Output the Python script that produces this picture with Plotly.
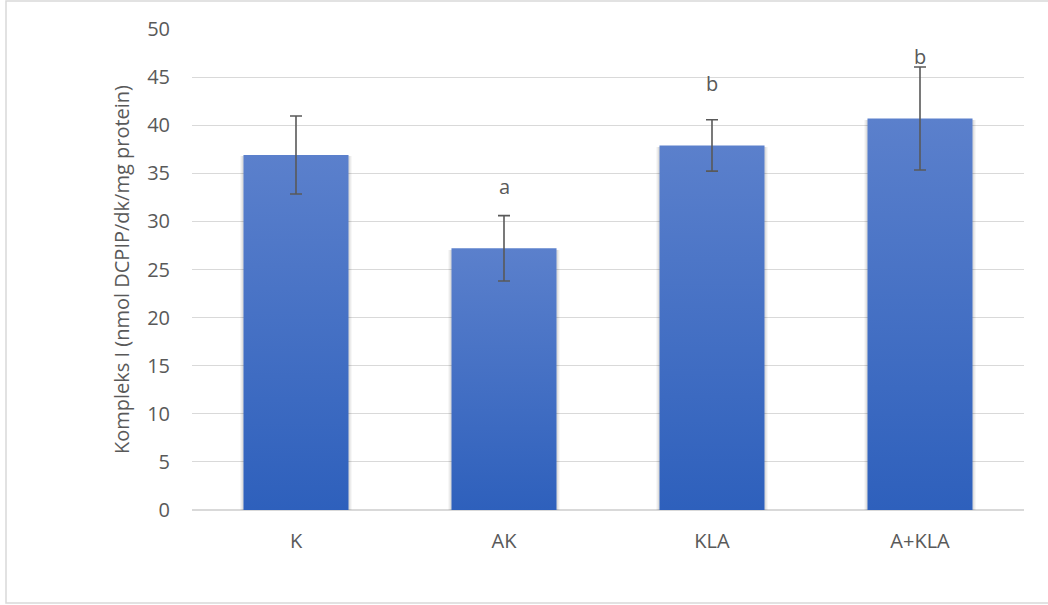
import plotly.graph_objects as go

# Complex I activity per group
groups = ["K", "AK", "KLA", "A+KLA"]
activity = [36.9, 27.2, 37.9, 40.7]
activity_err = [4.05, 3.4, 2.67, 5.35]
sig_letters = ["", "a", "b", "b"]

y_ticks = [0, 5, 10, 15, 20, 25, 30, 35, 40, 45, 50]

W, H = 1048, 605
ML, MR, MT, MB = 192, 24, 29, 95
BAR_W = 0.505
TEXT = "#595959"
FONT = "Open Sans"
FS = 20

fig = go.Figure()

xpos = list(range(len(groups)))

# soft shadow behind each bar
for spread, alpha in [(0.034, 0.03), (0.022, 0.045), (0.012, 0.06)]:
    fig.add_trace(go.Bar(
        x=xpos, y=[v - 0.15 for v in activity], width=BAR_W + spread,
        marker=dict(color=f"rgba(0,0,0,{alpha})", line=dict(width=0)),
        hoverinfo="skip", showlegend=False,
    ))

# gradient-filled bars
for i, v in enumerate(activity):
    x0, x1 = i - BAR_W / 2, i + BAR_W / 2
    fig.add_trace(go.Scatter(
        x=[x0, x0, x1, x1, x0], y=[0, v, v, 0, 0],
        mode="lines", line=dict(width=0), fill="toself",
        fillgradient=dict(type="vertical",
                          colorscale=[[0, "#2e60bc"], [1, "#5b80cc"]]),
        hoverinfo="skip", showlegend=False,
    ))

# error bars
fig.add_trace(go.Scatter(
    x=xpos, y=activity, mode="markers",
    marker=dict(size=1, opacity=0),
    error_y=dict(type="data", array=activity_err, visible=True,
                 color="#595959", thickness=1.6, width=6),
    showlegend=False, hoverinfo="skip",
))

# significance letters above bars
for i, (v, t) in enumerate(zip(activity, sig_letters)):
    if t:
        fig.add_annotation(x=i, y=v, text=t, showarrow=False,
                           yanchor="bottom", yshift=46,
                           font=dict(family=FONT, size=FS, color=TEXT))

# outer chart frame
pw, ph = W - ML - MR, H - MT - MB
fig.add_shape(type="rect", xref="paper", yref="paper",
              x0=(6 - ML) / pw, x1=(W + 5 - ML) / pw,
              y0=(H - 603 - MB) / ph, y1=(H - 1 - MB) / ph,
              line=dict(color="#d9d9d9", width=1.5), fillcolor="rgba(0,0,0,0)",
              layer="below")

fig.update_layout(
    width=W, height=H,
    margin=dict(l=ML, r=MR, t=MT, b=MB),
    paper_bgcolor="white", plot_bgcolor="white",
    barmode="overlay", bargap=0,
    font=dict(family=FONT, size=FS, color=TEXT),
    xaxis=dict(range=[-0.5, 3.5], tickvals=xpos, ticktext=groups,
               showgrid=False, zeroline=False, showline=False,
               ticks="", ticklabelstandoff=17,
               tickfont=dict(family=FONT, size=FS, color=TEXT)),
    yaxis=dict(range=[0, 50], tickvals=y_ticks,
               showgrid=True, gridcolor="#d9d9d9", gridwidth=1,
               zeroline=True, zerolinecolor="#d9d9d9", zerolinewidth=1.5,
               showline=False, ticks="", ticklabelstandoff=21,
               tickfont=dict(family=FONT, size=FS, color=TEXT),
               title=dict(text="Kompleks I (nmol DCPIP/dk/mg protein)",
                          font=dict(family=FONT, size=FS, color=TEXT),
                          standoff=12)),
)

fig.write_html("out.html")
